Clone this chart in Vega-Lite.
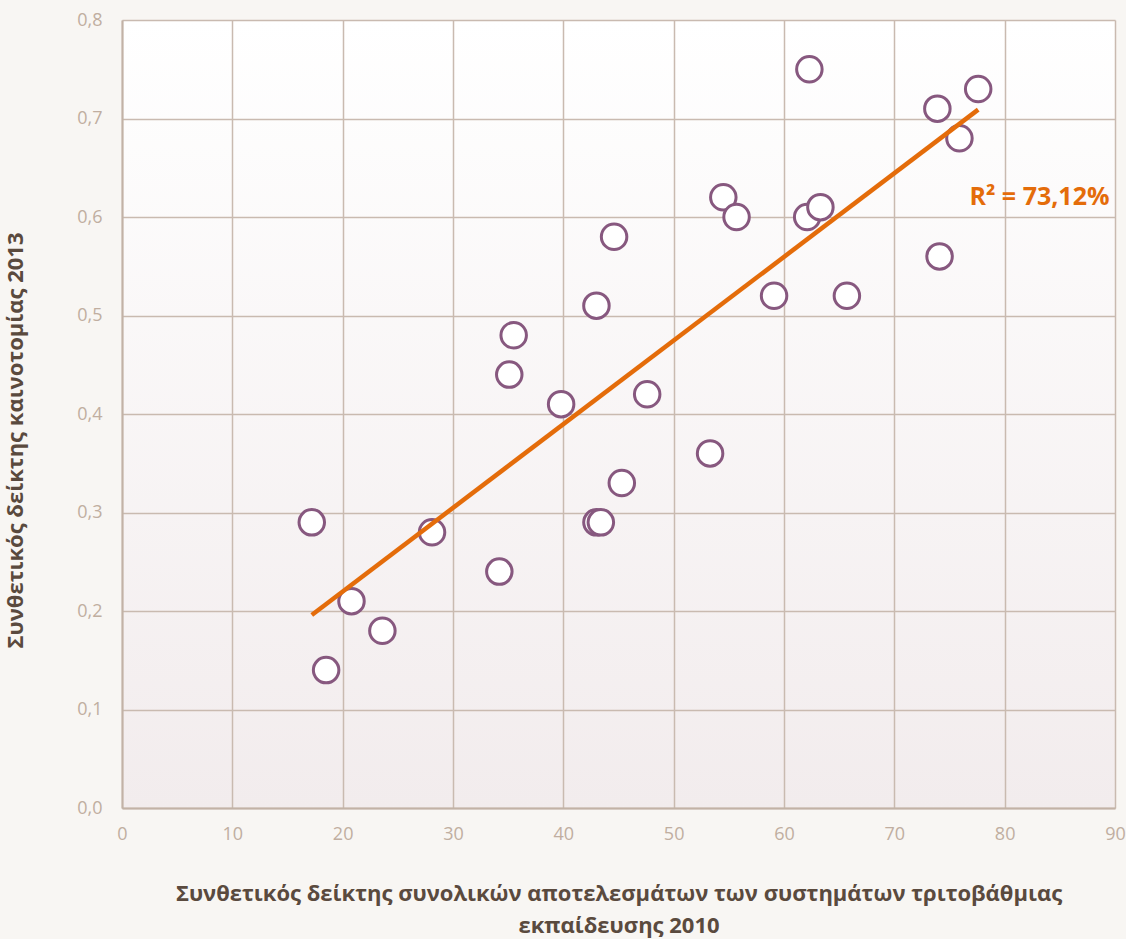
{
  "$schema": "https://vega.github.io/schema/vega-lite/v6.json",
  "autosize": {"type": "none"},
  "width": 993,
  "height": 788,
  "padding": {"left": 122, "top": 20, "right": 11, "bottom": 131},
  "background": "#f8f6f3",
  "config": {
    "view": {
      "stroke": null,
      "fill": {"gradient": "linear", "x1": 0, "y1": 0, "x2": 0, "y2": 1, "stops": [{"offset": 0, "color": "#ffffff"}, {"offset": 1, "color": "#f2eced"}]}
    },
    "font": "Open Sans",
    "axis": {
      "gridColor": "#c9bab0",
      "gridWidth": 1.5,
      "gridOpacity": 1,
      "domainColor": "#c2b2a6",
      "domainWidth": 2,
      "ticks": false,
      "labelFlush": false,
      "labelOverlap": false,
      "labelColor": "#c0aea0",
      "labelFontSize": 18,
      "labelFont": "Open Sans",
      "titleColor": "#5a4a3e",
      "titleFont": "Open Sans",
      "titleFontSize": 22,
      "titleFontWeight": "bold"
    }
  },
  "datasets": {
    "points": [
      {"x": 17.2, "y": 0.29}, {"x": 18.5, "y": 0.14}, {"x": 20.8, "y": 0.21}, {"x": 23.6, "y": 0.18},
      {"x": 28.1, "y": 0.28}, {"x": 34.2, "y": 0.24}, {"x": 35.1, "y": 0.44}, {"x": 35.5, "y": 0.48},
      {"x": 39.8, "y": 0.41}, {"x": 43.0, "y": 0.51}, {"x": 43.0, "y": 0.29}, {"x": 43.4, "y": 0.29},
      {"x": 44.6, "y": 0.58}, {"x": 45.3, "y": 0.33}, {"x": 47.6, "y": 0.42}, {"x": 53.3, "y": 0.36},
      {"x": 54.5, "y": 0.62}, {"x": 55.7, "y": 0.60}, {"x": 59.1, "y": 0.52}, {"x": 62.3, "y": 0.75},
      {"x": 62.1, "y": 0.60}, {"x": 63.3, "y": 0.61}, {"x": 65.7, "y": 0.52}, {"x": 73.9, "y": 0.71},
      {"x": 74.1, "y": 0.56}, {"x": 75.9, "y": 0.68}, {"x": 77.6, "y": 0.73}
    ],
    "trend": [{"x": 17.2, "y": 0.196}, {"x": 77.6, "y": 0.709}],
    "label": [{"x": 89.5, "y": 0.62, "text": "R² = 73,12%"}]
  },
  "layer": [
    {
      "data": {"name": "points"},
      "mark": {"type": "point", "shape": "circle", "filled": false, "fill": "#ffffff", "fillOpacity": 1, "stroke": "#87587f", "strokeWidth": 3, "size": 650, "opacity": 1},
      "encoding": {
        "x": {
          "field": "x", "type": "quantitative",
          "scale": {"domain": [0, 90], "nice": false},
          "axis": {"values": [0, 10, 20, 30, 40, 50, 60, 70, 80, 90], "labelPadding": 17, "titlePadding": 40,
            "title": ["Συνθετικός δείκτης συνολικών αποτελεσμάτων των συστημάτων τριτοβάθμιας", "εκπαίδευσης 2010"], "titleLineHeight": 32}
        },
        "y": {
          "field": "y", "type": "quantitative",
          "scale": {"domain": [0, 0.8], "nice": false},
          "axis": {"values": [0, 0.1, 0.2, 0.3, 0.4, 0.5, 0.6, 0.7, 0.8], "labelPadding": 20, "titlePadding": 49, "titleY": 420,
            "labelExpr": "replace(format(datum.value, '.1f'), '.', ',')",
            "title": "Συνθετικός δείκτης καινοτομίας 2013"}
        }
      }
    },
    {
      "data": {"name": "trend"},
      "mark": {"type": "line", "color": "#e46c0a", "strokeWidth": 4.5},
      "encoding": {"x": {"field": "x", "type": "quantitative"}, "y": {"field": "y", "type": "quantitative"}}
    },
    {
      "data": {"name": "label"},
      "mark": {"type": "text", "align": "right", "baseline": "middle", "color": "#e46c0a", "fontSize": 25, "fontWeight": "bold", "font": "Open Sans"},
      "encoding": {"x": {"field": "x", "type": "quantitative"}, "y": {"field": "y", "type": "quantitative"}, "text": {"field": "text"}}
    }
  ]
}
